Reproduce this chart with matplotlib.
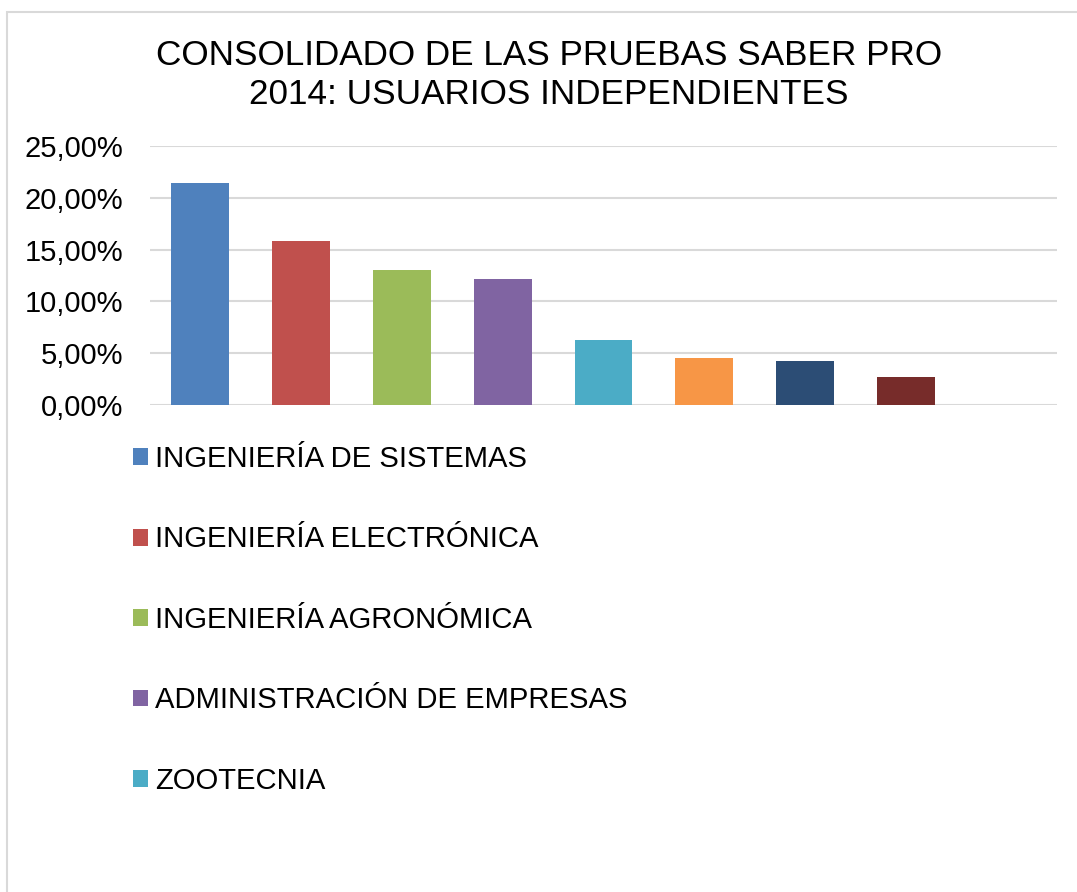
import matplotlib
matplotlib.use('Agg')

import matplotlib.pyplot as plt
from matplotlib.patches import Patch, Rectangle
from matplotlib.ticker import FuncFormatter, MultipleLocator

plt.rcParams['font.family'] = ['Liberation Sans', 'DejaVu Sans']

# ---------------------------------------------------------------
# Data
# ---------------------------------------------------------------
programs = [
    'INGENIERÍA DE SISTEMAS',
    'INGENIERÍA ELECTRÓNICA',
    'INGENIERÍA AGRONÓMICA',
    'ADMINISTRACIÓN DE EMPRESAS',
    'ZOOTECNIA',
]
values = [21.43, 15.85, 13.03, 12.16, 6.27, 4.54, 4.25, 2.70]
colors = ['#4F81BD', '#C0504D', '#9BBB59', '#8064A2',
          '#4BACC6', '#F79646', '#2C4D75', '#772C2A']
n_slots = 9   # the category axis has one empty slot at the end

title = 'CONSOLIDADO DE LAS PRUEBAS SABER PRO\n2014: USUARIOS INDEPENDIENTES'

# ---------------------------------------------------------------
# Figure
# ---------------------------------------------------------------
W, H = 1077, 892
fig = plt.figure(figsize=(W / 100, H / 100), dpi=100)
fig.patch.set_facecolor('white')

# chart-area border (light grey, runs off the right/bottom edges)
fig.patches.append(Rectangle((7 / W, -0.05), 1.1, 1 - 12 / H + 0.05,
                             transform=fig.transFigure, fill=False,
                             edgecolor='#d9d9d9', linewidth=1.5))

ax = fig.add_axes([150 / W, 1 - 405 / H, (1057 - 150) / W, (405 - 146) / H])

ax.bar(range(len(values)), values, width=0.575, color=colors, zorder=3)

ax.set_xlim(-0.5, n_slots - 0.5)
ax.set_ylim(0, 25)
ax.yaxis.set_major_locator(MultipleLocator(5))
ax.yaxis.set_major_formatter(
    FuncFormatter(lambda v, _: f'{v:.2f}'.replace('.', ',') + '%'))
ax.tick_params(axis='y', length=0, pad=19.5, labelsize=21)
ax.set_xticks([])
ax.grid(axis='y', color='#d9d9d9', linewidth=1.5, zorder=0)
for s in ax.spines.values():
    s.set_visible(False)

fig.text(549 / W, 1 - 75 / H, title, ha='center', va='center',
         fontsize=25.3, linespacing=1.25)

# legend — only the first five entries fit in the chart area
handles = [Patch(facecolor=c, edgecolor='none') for c in colors[:len(programs)]]
fig.legend(handles, programs, loc='upper left',
           bbox_to_anchor=(133 / W, 1 - 445 / H),
           frameon=False, fontsize=21.1, handlelength=0.51, handleheight=0.51,
           handletextpad=0.24, labelspacing=1.79, borderpad=0,
           borderaxespad=0)

fig.savefig('out.png', dpi=100)
